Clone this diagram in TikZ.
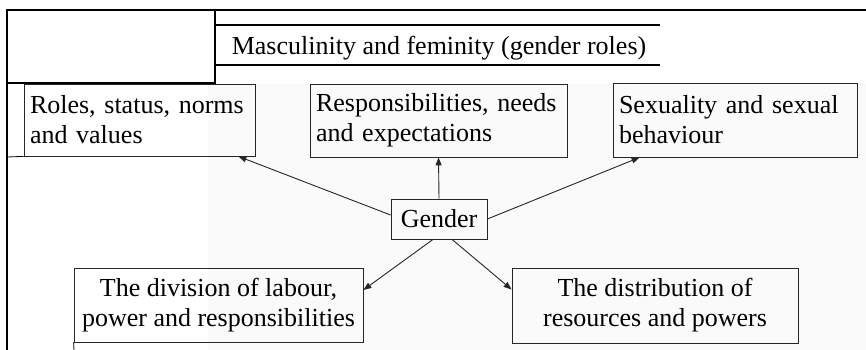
\documentclass[tikz,border=0pt]{standalone}
\usepackage{fontspec}
\setmainfont{Liberation Serif}
\usetikzlibrary{arrows.meta, positioning}

\begin{document}
\begin{tikzpicture}[x=1pt, y=-1pt,
  box/.style={draw=black!85, line width=0.8pt, inner xsep=6pt, inner ysep=0pt,
    align=left, font=\fontsize{26}{30}\selectfont},
  arr/.style={-{Triangle[length=8pt,width=6pt]}, line width=0.9pt, black!85},
  frame/.style={line width=1.6pt},
]
  \useasboundingbox (0,0) rectangle (866,350);
  \fill[black!2] (208,84) rectangle (866,350);

  % table rules round the chart
  \draw[frame] (866,10) -- (7,10) -- (7,350);
  \draw[frame] (215,10) -- (215,83) -- (7,83);
  \draw[line width=1.2pt] (215,25) -- (660,25);
  \draw[line width=1.2pt] (215,65) -- (660,65);
  \node[font=\fontsize{26}{30}\selectfont, anchor=base] (masc) at (439,55)
    {Masculinity and feminity (gender roles)};

  \node[box, text width=219pt, minimum height=72pt] (roles) at (139.5,120)
    {Roles, status, norms\\and values};
  \node[box, text width=245pt, minimum height=73pt] (resp) at (438.5,120.5)
    {Responsibilities, needs\\and expectations};
  \node[box, text width=232pt, minimum height=74pt] (sexual) at (735,120)
    {Sexuality and sexual\\behaviour};
  \node[box, align=center, inner xsep=0pt, minimum width=96pt, minimum height=40pt]
    (gender) at (439,219) {Gender};
  \node[box, align=center, inner xsep=0pt, minimum width=289pt, minimum height=74pt]
    (division) at (218.5,305) {The division of labour,\\power and responsibilities};
  \node[box, align=center, inner xsep=0pt, minimum width=286pt, minimum height=75pt]
    (distrib) at (655,305.5) {The distribution of\\resources and powers};

  \draw[line width=0.8pt] (7,157) -- (roles.south west);
  \draw[line width=0.8pt] (division.south west) -- (74,350);

  \draw[arr] ([yshift=4pt]gender.west) -- ([xshift=-17pt]roles.south east);
  \draw[arr] (gender.north) -- (resp.south);
  \draw[arr] (gender.east) -- ([xshift=27pt]sexual.south west);
  \draw[arr] ([xshift=-6pt]gender.south) -- ([yshift=15pt]division.east);
  \draw[arr] ([xshift=13pt]gender.south) -- ([yshift=16pt]distrib.west);
\end{tikzpicture}
\end{document}
